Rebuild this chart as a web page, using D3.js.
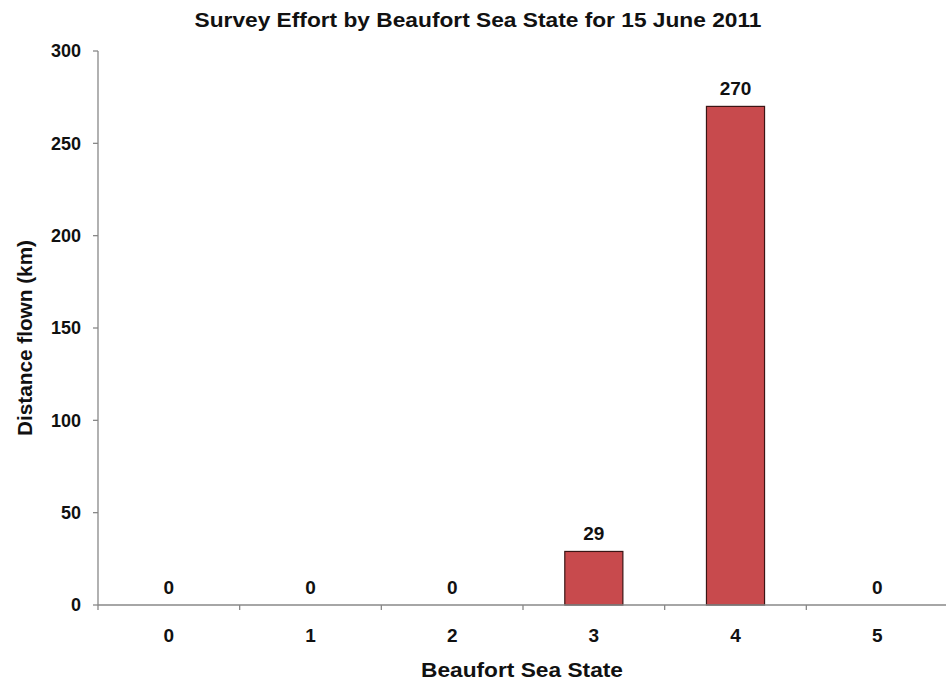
<!DOCTYPE html>
<html><head><meta charset="utf-8">
<script src="https://cdn.jsdelivr.net/npm/d3@7"></script>
<style>body{margin:0;background:#fff}svg{display:block}text{font-family:"Liberation Sans",Arial,sans-serif;font-weight:bold;fill:#111}</style>
</head><body>
<svg id="c" width="946" height="685"></svg>
<script>
const categories = ["0","1","2","3","4","5"];
const values = [0,0,0,29,270,0];
const yTicks = [0,50,100,150,200,250,300];
const title = "Survey Effort by Beaufort Sea State for 15 June 2011";
const xTitle = "Beaufort Sea State";
const yTitle = "Distance flown (km)";

(function(){
const svg = d3.select("#c");
const mL = 98, mR = 948, mT = 51, mB = 605;
const x = d3.scaleBand().domain(categories).range([mL, mR]).padding(0);
const y = d3.scaleLinear().domain([0,300]).range([mB, mT]);
const barW = x.bandwidth()*0.41;

svg.append("text").attr("x",478).attr("y",27).attr("text-anchor","middle")
  .attr("font-size",21).attr("textLength",567).attr("lengthAdjust","spacingAndGlyphs").text(title);

// axes
const gy = svg.append("g");
gy.append("line").attr("x1",mL).attr("x2",mL).attr("y1",mT).attr("y2",mB).attr("stroke","#888").attr("stroke-width",1.3);
gy.selectAll("line.t").data(yTicks).join("line").attr("class","t")
  .attr("x1",mL-5).attr("x2",mL).attr("y1",d=>y(d)).attr("y2",d=>y(d)).attr("stroke","#888").attr("stroke-width",1.3);
gy.selectAll("text").data(yTicks).join("text").attr("x",81).attr("y",d=>y(d)).attr("dy","0.35em")
  .attr("text-anchor","end").attr("font-size",18).text(d=>d);

// bars
svg.selectAll("rect.bar").data(values).join("rect").attr("class","bar")
  .attr("x",(d,i)=>x(categories[i])+x.bandwidth()/2-barW/2).attr("width",barW)
  .attr("y",d=>y(d)).attr("height",d=>mB-y(d))
  .attr("fill","#c84a4d").attr("stroke","#3b1515").attr("stroke-width",1.2);

const gx = svg.append("g");
gx.append("line").attr("x1",mL).attr("x2",mR).attr("y1",mB).attr("y2",mB).attr("stroke","#888").attr("stroke-width",1.3);
const bounds = categories.map(c=>x(c)).concat([mR]);
gx.selectAll("line.t").data(bounds).join("line").attr("class","t")
  .attr("x1",d=>d).attr("x2",d=>d).attr("y1",mB).attr("y2",mB+5).attr("stroke","#888").attr("stroke-width",1.3);
gx.selectAll("text").data(categories).join("text").attr("x",d=>x(d)+x.bandwidth()/2).attr("y",642)
  .attr("text-anchor","middle").attr("font-size",19).text(d=>d);

// value labels
svg.selectAll("text.v").data(values).join("text").attr("class","v")
  .attr("x",(d,i)=>x(categories[i])+x.bandwidth()/2).attr("y",d=>y(d)-11)
  .attr("text-anchor","middle").attr("font-size",19).text(d=>d);

svg.append("text").attr("x",522).attr("y",677).attr("text-anchor","middle").attr("font-size",20)
  .attr("textLength",202).attr("lengthAdjust","spacingAndGlyphs").text(xTitle);
svg.append("text").attr("transform","translate(32,338) rotate(-90)").attr("text-anchor","middle").attr("font-size",20)
  .attr("textLength",196).attr("lengthAdjust","spacingAndGlyphs").text(yTitle);
})();
</script>
</body></html>
